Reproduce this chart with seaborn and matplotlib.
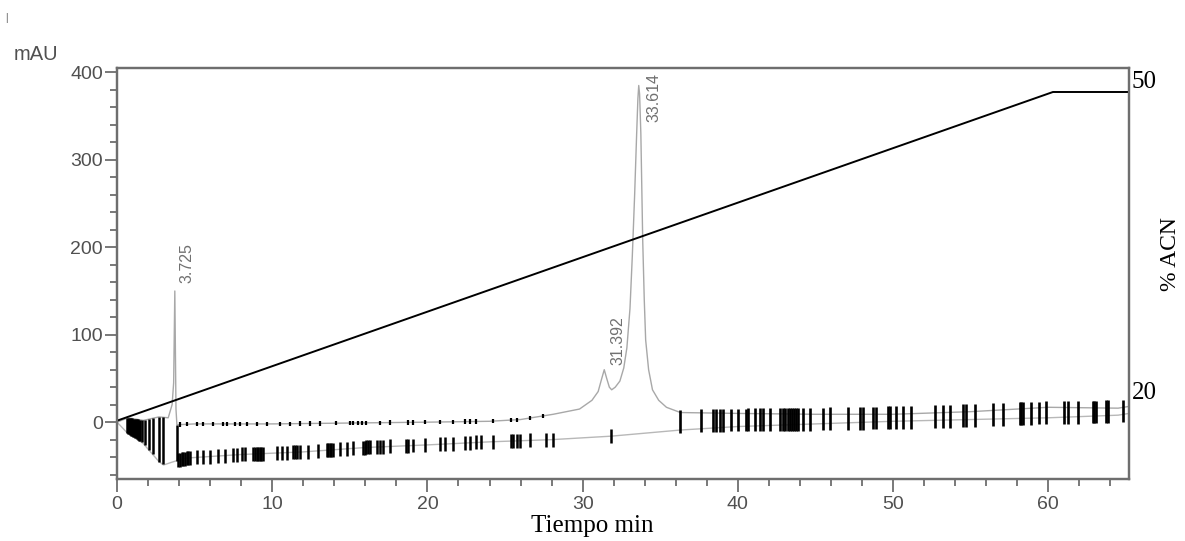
import numpy as np
import matplotlib
matplotlib.use("Agg")
import matplotlib.pyplot as plt
from matplotlib.ticker import MultipleLocator
import seaborn as sns

# chromatogram of the sample (upper trace), time in min, signal in mAU
sample_t = [0, 0.7, 1.7, 2.7, 3.3, 3.55, 3.65, 3.725, 3.8, 3.86, 5, 10, 15, 20, 24,
            26, 28.1, 29.8, 30.6, 31.0, 31.2, 31.392, 31.55, 31.72, 31.87, 32.1, 32.4,
            32.65, 32.85, 33.05, 33.2, 33.35, 33.48, 33.56, 33.614, 33.67, 33.75,
            33.87, 33.97, 34.06, 34.25, 34.5, 34.9, 35.4, 36.3, 40, 45, 50, 55, 60,
            64.5, 65.2]
sample_mau = [0, 5, 2, 6, 5, 20, 45, 150, 15, -3, -2, -2, -1, 0, 1,
              3, 9, 15, 25, 35, 48, 60, 50, 40, 37, 40, 47,
              62, 85, 130, 190, 260, 330, 370, 385, 375, 330,
              208, 140, 94, 60, 37, 25, 17, 11, 10, 9, 9, 12, 17,
              16, 18]

# blank run (lower trace)
blank_t = [0, 0.7, 1.67, 2.06, 2.7, 3.0, 3.5, 3.86, 4.5, 8, 12, 16, 20, 24, 28,
           31.85, 36.3, 40, 45, 50, 55, 60, 64.5, 65.2]
blank_mau = [0, -13, -24, -32, -45, -49, -46, -44, -41, -37, -34, -29, -26, -22.5, -20,
             -16, -9, -5, -2, 1, 3, 5, 8, 10]

# gradient programme, % ACN
grad_t = [0, 60.3, 65.2]
grad_acn = [20, 50, 50]

# peak labels
peak_text = ["3.725", "31.392", "33.614"]
peak_label_t = [4.5, 32.3, 34.6]
peak_label_mau = [159, 65, 343]

# integration event marks (min)
events_front = [0.66, 0.72, 0.78, 0.84, 0.9, 0.96, 1.02, 1.08, 1.14, 1.2, 1.27, 1.34,
                1.42, 1.5, 1.6, 1.8, 2.05, 2.3, 2.7, 2.95, 3.86]
events_blank = [3.95, 4.06, 4.17, 4.27, 4.38, 4.49, 4.6, 4.70, 5.13, 5.56, 5.99, 6.52,
                6.95, 7.49, 7.71, 8.03, 8.24, 8.78, 8.9, 9.0, 9.10, 9.2, 9.3, 9.42,
                10.28, 10.6, 10.93, 11.35, 11.46, 11.57, 11.78, 12.32, 12.96, 13.5,
                13.6, 13.7, 13.8, 13.93, 14.36, 14.79, 15.21, 15.86, 15.96, 16.07,
                16.18, 16.29, 16.72, 16.93, 17.15, 17.58, 18.65, 18.76, 19.08, 19.83,
                20.8, 21.12, 21.66, 22.41, 22.73, 23.16, 23.48, 24.23, 25.41, 25.52,
                25.74, 25.95, 26.59, 27.67, 28.1, 31.85]
events_sample = [4.06, 4.49, 5.13, 5.56, 6.2, 6.85, 7.06, 7.6, 7.92, 8.35, 8.99, 9.64,
                 10.5, 11.14, 11.78, 12.43, 13.07, 14.14, 15.0, 15.2, 15.5, 15.8,
                 16.07, 16.93, 17.58, 18.76, 19.08, 19.83, 20.8, 21.66, 22.41, 22.73,
                 23.16, 24.23, 25.41, 25.74, 26.59, 27.45]
events_late = [36.25, 37.65, 38.4, 38.61, 38.83, 39.04, 39.58, 40.0, 40.55, 40.65,
               41.08, 41.4, 41.62, 42.05, 42.69, 42.9, 43.05, 43.2, 43.34, 43.48,
               43.62, 43.77, 43.9, 44.19, 44.62, 45.48, 45.91, 47.09, 47.84, 48.06,
               48.7, 48.92, 49.7, 49.8, 50.2, 50.63, 51.17, 52.67, 53.2, 53.64, 54.5,
               54.71, 55.25, 56.43, 57.07, 58.15, 58.25, 58.36, 58.9, 59.43, 59.86,
               61.04, 61.26, 61.9, 62.87, 62.95, 63.08, 63.73, 63.83, 64.8]

sns.set_theme(style="ticks")
plt.rcParams["font.family"] = ["Liberation Sans", "DejaVu Sans"]
SERIF = ["Liberation Serif", "DejaVu Serif"]
FRAME = "#6e6e6e"
TXT = "#505050"

fig = plt.figure(figsize=(11.85, 5.41), dpi=100)
ax = fig.add_axes([117 / 1185, 1 - 479 / 541, (1129 - 117) / 1185, (479 - 68) / 541])

# traces
sns.lineplot(x=blank_t, y=blank_mau, ax=ax, color="#b8b8b8", lw=1.0, sort=False)
sns.lineplot(x=sample_t, y=sample_mau, ax=ax, color="#a8a8a8", lw=1.0, sort=False)

# event marks
ev = np.array(events_front)
ax.vlines(ev, np.interp(ev, blank_t, blank_mau), np.interp(ev, sample_t, sample_mau),
          color="black", lw=1.8)
ev = np.array(events_blank)
yb = np.interp(ev, blank_t, blank_mau)
ax.vlines(ev, yb - 8, yb + 8, color="black", lw=1.8)
ev = np.array(events_sample)
ys = np.interp(ev, sample_t, sample_mau)
ax.vlines(ev, ys - 2.5, ys + 2.5, color="black", lw=1.6)
ev = np.array(events_late)
ym = (np.interp(ev, sample_t, sample_mau) + np.interp(ev, blank_t, blank_mau)) / 2
ax.vlines(ev, ym - 13, ym + 13, color="black", lw=1.9)

for txt, t, v in zip(peak_text, peak_label_t, peak_label_mau):
    ax.text(t, v, txt, rotation=90, ha="center", va="bottom", fontsize=11.5,
            color="#707070")

ax.set_xlim(0, 65.2)
ax.set_ylim(-65, 405)
ax.xaxis.set_major_locator(MultipleLocator(10))
ax.xaxis.set_minor_locator(MultipleLocator(2))
ax.yaxis.set_major_locator(MultipleLocator(100))
ax.yaxis.set_minor_locator(MultipleLocator(20))
ax.set_xticks(range(0, 61, 10))
ax.set_yticks(range(0, 401, 100))
ax.tick_params(which="major", length=9, width=1.3, color=FRAME, direction="out",
               labelsize=14, labelcolor=TXT)
ax.tick_params(which="minor", length=5, width=1.3, color=FRAME, direction="out")
ax.tick_params(axis="y", pad=1)
ax.tick_params(axis="x", pad=3)
for s in ax.spines.values():
    s.set_color(FRAME)
    s.set_linewidth(1.6)

ax.set_xlabel("Tiempo min", fontfamily=SERIF, fontsize=18, color="black")
ax.xaxis.set_label_coords((592 - 117) / 1012, (479 - 526) / 411)
ax.xaxis.label.set_va("center")
ax.set_ylabel("mAU", rotation=0, fontsize=14.5, color=TXT)
ax.yaxis.set_label_coords((36 - 117) / 1012, (479 - 54) / 411)
ax.yaxis.label.set_va("center")

# gradient on a secondary axis
ax2 = ax.twinx()
sns.lineplot(x=grad_t, y=grad_acn, ax=ax2, color="black", lw=1.4, sort=False)
ax2.set_ylim(14.68, 52.19)
ax2.set_yticks([])
ax2.set_ylabel("")
for s in ax2.spines.values():
    s.set_color(FRAME)
    s.set_linewidth(1.6)
for val, dy in [(50, 7), (20, 20)]:
    ax2.annotate(str(val), xy=(1, val), xycoords=("axes fraction", "data"),
                 xytext=(2, dy), textcoords="offset points", ha="left", va="center",
                 fontfamily=SERIF, fontsize=18, color="black", annotation_clip=False)

fig.text(1170 / 1185, 1 - 254 / 541, "% ACN", rotation=90, ha="center", va="center",
         fontfamily=SERIF, fontsize=17, color="black")
fig.text(6 / 1185, 1 - 18 / 541, "|", ha="center", va="center", fontsize=7, color="#555555")

fig.savefig("out.png", dpi=100)
